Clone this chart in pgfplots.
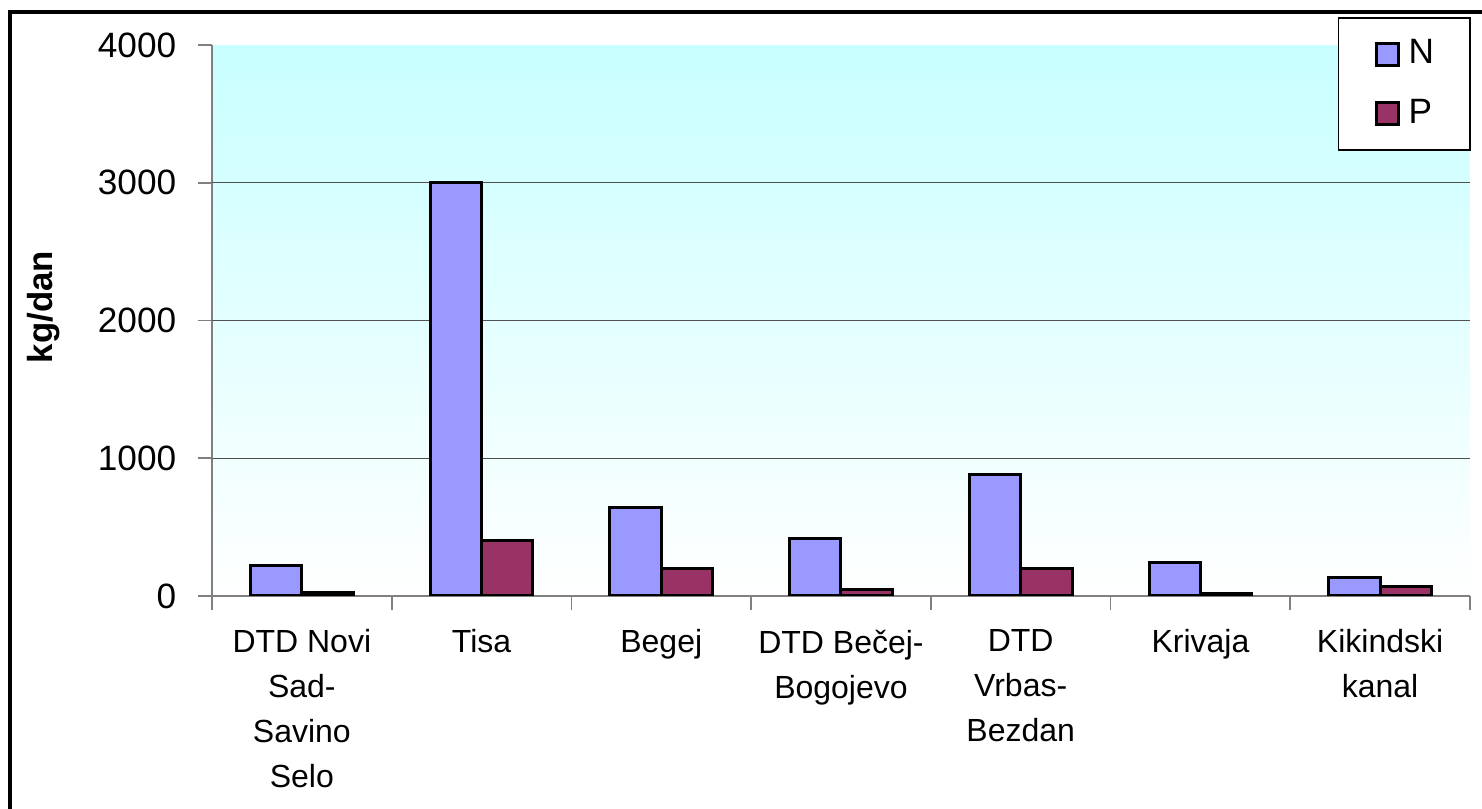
\documentclass[border=0pt]{standalone}
\usepackage{fontspec}
\setmainfont{Liberation Sans}
\usepackage{pgfplots}
\pgfplotsset{compat=1.18}
\definecolor{nblue}{RGB}{153,153,255}
\definecolor{pred}{RGB}{153,51,102}
\definecolor{bgtop}{RGB}{200,255,255}
\definecolor{axgray}{RGB}{128,128,128}
\definecolor{gridgray}{RGB}{80,80,80}
\begin{document}
\begin{tikzpicture}
\path[use as bounding box] (0,0) rectangle (370.5pt,-202.25pt);
\draw[line width=1pt] (2.5pt,-210pt) -- (2.5pt,-3pt) -- (375pt,-3pt);
\begin{axis}[
  at={(53pt,-149pt)}, anchor=south west,
  scale only axis, width=314.5pt, height=137.75pt,
  xmin=-0.5, xmax=6.5, ymin=0, ymax=4000,
  axis lines*=left,
  axis line style={draw=axgray, line width=0.45pt},
  axis background/.style={shade, top color=bgtop, bottom color=white},
  tick align=outside,
  major tick length=3.5pt,
  tick style={draw=axgray, line width=0.45pt},
  ytick={0,1000,2000,3000,4000},
  /pgf/number format/assume math mode=true,
  /pgf/number format/1000 sep={},
  yticklabel style={font=\fontsize{8.8}{10}\selectfont, anchor=east, inner sep=0pt, xshift=-5.25pt},
  extra y ticks={1000,2000,3000},
  extra y tick labels={},
  extra y tick style={grid=major, major grid style={draw=gridgray, line width=0.35pt}, tick style={draw=none}},
  xtick={-0.5,0.5,...,6.5},
  xticklabels={},
  extra x ticks={0,1,2,3,4,5,6},
  extra x tick labels={{DTD Novi\\Sad-\\Savino\\Selo},{Tisa},{Begej},{DTD Be\v{c}ej-\\Bogojevo},{DTD\\Vrbas-\\Bezdan},{Krivaja},{Kikindski\\kanal}},
  extra x tick style={major tick length=0pt, tick style={draw=none}},
  xticklabel style={font=\fontsize{8}{11.25}\selectfont, align=center, anchor=north, inner sep=0pt, yshift=-8.25pt},
  ylabel={kg/dan},
  ylabel style={at={(axis description cs:-0.1340,0.5245)}, anchor=center, font=\bfseries\fontsize{8.7}{10}\selectfont},
  legend image code/.code={\draw[#1, line width=0.75pt] (0pt,-2.75pt) rectangle (5.5pt,2.75pt);},
  legend style={at={(0.895,1.0508)}, anchor=north west, draw=black, line width=0.4pt, fill=white,
    font=\fontsize{8.8}{10}\selectfont, inner xsep=9pt, inner ysep=5.3pt, row sep=7.4pt,
    nodes={inner sep=0pt, anchor=west},
    /tikz/every odd column/.append style={column sep=2.25pt}},
  legend cell align=left,
]
\addplot[ybar, bar width=0.2857, bar shift=-0.142857, fill=nblue, draw=black, line width=0.75pt]
  coordinates {(0,220) (1,3000) (2,640) (3,420) (4,885) (5,245) (6,135)};
\addlegendentry{N}
\addplot[ybar, bar width=0.2857, bar shift=0.142857, fill=pred, draw=black, line width=0.75pt]
  coordinates {(0,25) (1,400) (2,200) (3,50) (4,200) (5,20) (6,70)};
\addlegendentry{P}
\end{axis}
\end{tikzpicture}
\end{document}
